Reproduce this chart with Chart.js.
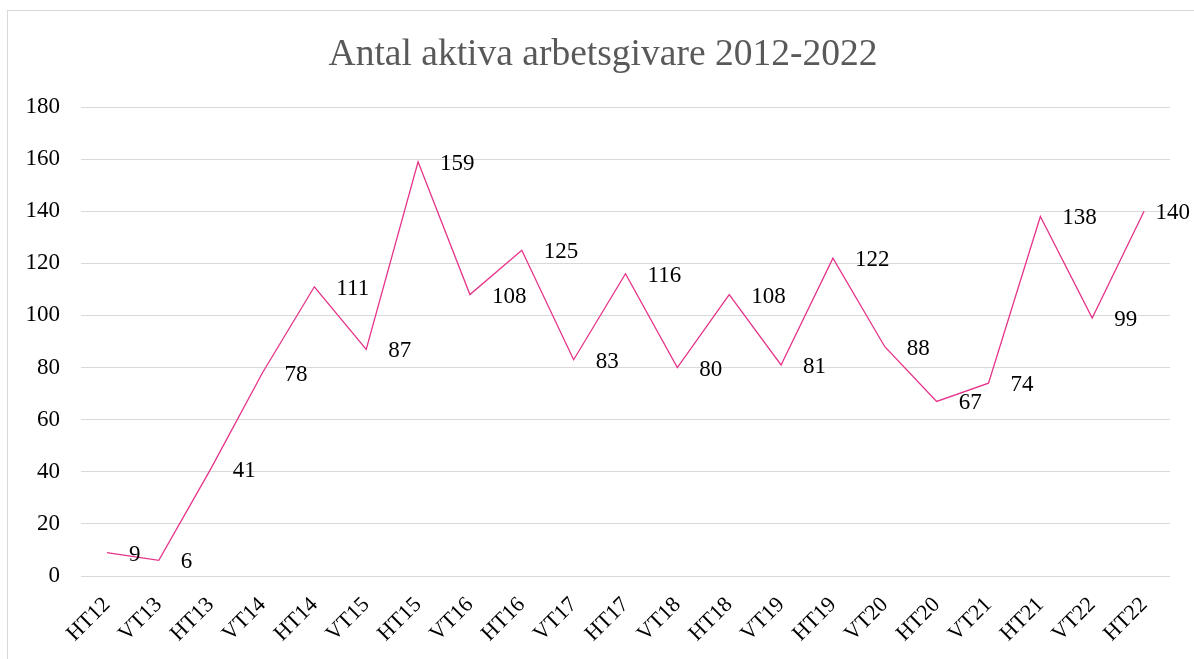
<!DOCTYPE html>
<html>
<head>
<meta charset="utf-8">
<script src="https://cdn.jsdelivr.net/npm/chart.js@4"></script>
<style>
  html, body { margin: 0; padding: 0; background: #fff; overflow: hidden; }
  #wrap { position: absolute; left: 7px; top: 10px; width: 1200px; height: 680px; border: 1px solid #d9d9d9; }
</style>
</head>
<body>
<div id="wrap"><canvas id="chart"></canvas></div>
<script>
const terms = ["HT12", "VT13", "HT13", "VT14", "HT14", "VT15", "HT15", "VT16", "HT16", "VT17", "HT17", "VT18", "HT18", "VT19", "HT19", "VT20", "HT20", "VT21", "HT21", "VT22", "HT22"];
const employers = [9, 6, 41, 78, 111, 87, 159, 108, 125, 83, 116, 80, 108, 81, 122, 88, 67, 74, 138, 99, 140];
const yTicks = [0, 20, 40, 60, 80, 100, 120, 140, 160, 180];
const titleText = "Antal aktiva arbetsgivare 2012-2022";

const serif = "'Liberation Serif', 'Times New Roman', serif";
const pink = "#e6338a";

// title drawn by hand so it can sit centred on the whole frame, not the padded layout box
const frameTitle = {
  id: "frameTitle",
  afterDraw(chart) {
    const ctx = chart.ctx;
    ctx.save();
    ctx.font = "37.5px " + serif;
    ctx.fillStyle = "#595959";
    ctx.textAlign = "center";
    ctx.textBaseline = "middle";
    ctx.fillText(titleText, 595, 44);
    ctx.restore();
  },
};

// value labels to the right of each point, like Excel's "right" position
const valueLabels = {
  id: "valueLabels",
  afterDatasetsDraw(chart) {
    const ctx = chart.ctx;
    const meta = chart.getDatasetMeta(0);
    ctx.save();
    ctx.font = "23px " + serif;
    ctx.fillStyle = "#000";
    ctx.textAlign = "left";
    ctx.textBaseline = "middle";
    meta.data.forEach((pt, i) => {
      const text = String(chart.data.datasets[0].data[i]);
      const w = ctx.measureText(text).width;
      const x = Math.min(pt.x + 22, chart.width - 18 - w);
      ctx.fillText(text, x, pt.y + 2);
    });
    ctx.restore();
  },
};

new Chart(document.getElementById("chart"), {
  type: "line",
  data: {
    labels: terms,
    datasets: [{ data: employers, borderColor: pink, borderWidth: 1.3, pointRadius: 0, tension: 0, fill: false }],
  },
  plugins: [valueLabels, frameTitle],
  options: {
    responsive: true,
    maintainAspectRatio: false,
    animation: false,
    layout: { padding: { left: 0, right: 38, top: 96, bottom: 0 } },
    plugins: {
      legend: { display: false },
      tooltip: { enabled: false },
      title: { display: false },
    },
    scales: {
      x: {
        offset: true,
        grid: { display: false, drawTicks: false },
        border: { display: false },
        ticks: { color: "#000", font: { family: serif, size: 22 }, minRotation: 45, maxRotation: 45, autoSkip: false, padding: 16 },
        afterFit: (s) => { s.height = 115; },
      },
      y: {
        min: 0,
        max: 180,
        afterBuildTicks: (s) => { s.ticks = yTicks.map((v) => ({ value: v })); },
        grid: { color: "#d9d9d9", lineWidth: 1, drawTicks: false },
        border: { display: false },
        ticks: { color: "#000", font: { family: serif, size: 23 }, padding: 21 },
        afterFit: (s) => { s.width = 73; },
      },
    },
  },
});
</script>
</body>
</html>
